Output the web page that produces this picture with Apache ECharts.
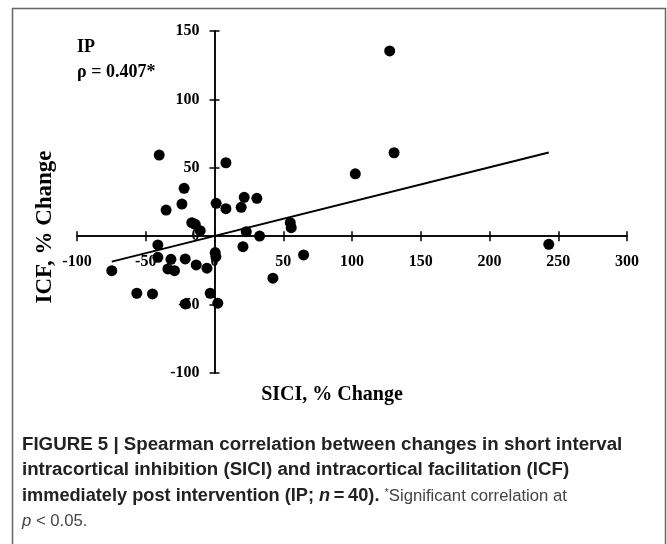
<!DOCTYPE html>
<html>
<head>
<meta charset="utf-8">
<script src="https://cdn.jsdelivr.net/npm/echarts@6/dist/echarts.min.js"></script>
<style>
  html, body { margin: 0; padding: 0; background: #fff; }
  #chart { width: 667px; height: 544px; }
</style>
</head>
<body>
<div id="chart"></div>
<script>
// SICI % change (x) and ICF % change (y), one entry per participant
const sici = [-22.1, -23.7, -35.2, 1.2, 8.3, 21.6, 30.8, 19.4, -16.5, -14.0,
  -10.4, 55.1, 55.8, 23.1, 32.8, -41.2, -41.2, -31.7, -33.9, -29.1,
  -21.3, -13.3, -5.5, 0.5, 1.0, 20.7, 64.8, -74.7, -56.5, -45.1,
  -3.1, -21.3, 2.4, 42.5, -40.2, 8.3, 127.4, 130.6, 102.4, 243.1]
const icf = [35.0, 23.5, 19.1, 24.0, 20.1, 28.4, 27.7, 21.1, 9.9, 8.7,
  4.0, 9.9, 6.2, 3.3, 0.1, -6.4, -15.4, -16.9, -23.9, -25.2,
  -16.6, -21.0, -23.4, -12.0, -15.0, -7.7, -13.7, -25.2, -41.7, -42.2,
  -41.7, -49.5, -49.0, -30.7, 59.3, 53.7, 135.4, 61.0, 45.6, -5.9]

// trend line end points
const fitX = [-74.7, 243.1]
const fitY = [-18.6, 61.2]

const xTicks = { min: -100, max: 300, interval: 50 }
const yTicks = { min: -100, max: 150, interval: 50 }

const serif = 'Liberation Serif'
const sans = 'Liberation Sans'

// plot box; axes cross at (0, 0)
const G = { left: 77, right: 40, top: 31, bottom: 171 }
const W = 667, H = 544
const zeroX = G.left + (0 - xTicks.min) / (xTicks.max - xTicks.min) * (W - G.left - G.right)
const zeroY = G.top + (yTicks.max - 0) / (yTicks.max - yTicks.min) * (H - G.top - G.bottom)

const chart = echarts.init(document.getElementById('chart'), null, { renderer: 'canvas' })

const axisLine = { onZero: true, lineStyle: { color: '#000', width: 1.5 } }
const tickStyle = { color: '#000', width: 1.5 }
const labelStyle = { color: '#000', fontFamily: serif, fontWeight: 'bold', fontSize: 16 }
const off = { show: false }

chart.setOption({
  animation: false,
  backgroundColor: '#fff',
  grid: [
    G,
    // helper grids so tick labels sit next to the crossing axes
    { left: G.left, right: G.right, top: G.top, bottom: H - zeroY },
    { left: zeroX, right: G.right, top: G.top, bottom: G.bottom }
  ],
  xAxis: [
    {
      type: 'value', ...xTicks, gridIndex: 0, position: 'bottom',
      axisLine,
      axisTick: { show: true, length: 5, lineStyle: tickStyle },
      axisLabel: off, splitLine: off
    },
    {
      type: 'value', ...xTicks, gridIndex: 0, position: 'bottom',
      axisLine,
      axisTick: { show: true, inside: true, length: 5, lineStyle: tickStyle },
      axisLabel: off, splitLine: off
    },
    {
      type: 'value', ...xTicks, gridIndex: 1, position: 'bottom',
      axisLine: { show: false, onZero: false }, axisTick: off, splitLine: off,
      axisLabel: { ...labelStyle, margin: 18, showMinLabel: true, showMaxLabel: true }
    },
    { type: 'value', gridIndex: 2, show: false }
  ],
  yAxis: [
    {
      type: 'value', ...yTicks, gridIndex: 0, position: 'left',
      axisLine,
      axisTick: { show: true, length: 5, lineStyle: tickStyle },
      axisLabel: off, splitLine: off
    },
    {
      type: 'value', ...yTicks, gridIndex: 0, position: 'left',
      axisLine,
      axisTick: { show: true, inside: true, length: 5, lineStyle: tickStyle },
      axisLabel: off, splitLine: off
    },
    { type: 'value', gridIndex: 1, show: false },
    {
      type: 'value', ...yTicks, gridIndex: 2, position: 'left',
      axisLine: { show: false, onZero: false }, axisTick: off, splitLine: off,
      axisLabel: { ...labelStyle, margin: 15, showMinLabel: true, showMaxLabel: true }
    }
  ],
  series: [
    {
      type: 'line',
      xAxisIndex: 0, yAxisIndex: 0,
      data: fitX.map((x, i) => [x, fitY[i]]),
      symbol: 'none',
      lineStyle: { color: '#000', width: 2 },
      z: 2
    },
    {
      type: 'scatter',
      xAxisIndex: 0, yAxisIndex: 0,
      data: sici.map((x, i) => [x, icf[i]]),
      symbol: 'circle',
      symbolSize: 11,
      itemStyle: { color: '#000', opacity: 1 },
      z: 3
    }
  ],
  graphic: [
    // figure frame (no bottom edge)
    {
      type: 'rect', silent: true,
      shape: { x: 12.5, y: 8.5, width: 653, height: 600 },
      style: { fill: 'none', stroke: '#666', lineWidth: 1.5 }
    },
    {
      type: 'text', left: 77, top: 38,
      style: { text: 'IP', font: 'bold 18px ' + serif, fill: '#000' }
    },
    {
      type: 'text', left: 77, top: 63,
      style: { text: 'ρ = 0.407*', font: 'bold 18px ' + serif, fill: '#000' }
    },
    {
      type: 'text', x: 332, y: 395,
      style: { text: 'SICI, % Change', font: 'bold 20px ' + serif, fill: '#000', align: 'center', verticalAlign: 'middle' }
    },
    {
      type: 'text', x: 45, y: 227, rotation: Math.PI / 2,
      style: { text: 'ICF, % Change', font: 'bold 23px ' + serif, fill: '#000', align: 'center', verticalAlign: 'middle' }
    },
    // caption
    {
      type: 'text', x: 22, y: 445,
      style: {
        text: '{b|FIGURE 5 | Spearman correlation between changes in short interval}',
        verticalAlign: 'middle',
        rich: { b: { font: 'bold 18.7px ' + sans, fill: '#222' } }
      }
    },
    {
      type: 'text', x: 22, y: 470,
      style: {
        text: '{b|intracortical inhibition (SICI) and intracortical facilitation (ICF)}',
        verticalAlign: 'middle',
        rich: { b: { font: 'bold 18.7px ' + sans, fill: '#222' } }
      }
    },
    {
      type: 'text', x: 22, y: 496,
      style: {
        text: '{b|immediately post intervention (IP; }{bi|n}{b|\u2009=\u200940). }{s|*}{r|Significant correlation at}',
        verticalAlign: 'middle',
        rich: {
          b: { font: 'bold 18.2px ' + sans, fill: '#222' },
          bi: { font: 'italic bold 18.2px ' + sans, fill: '#222' },
          s: { font: '11px ' + sans, fill: '#444', verticalAlign: 'top' },
          r: { font: '16.7px ' + sans, fill: '#444' }
        }
      }
    },
    {
      type: 'text', x: 22, y: 521,
      style: {
        text: '{i|p}{r| < 0.05.}',
        verticalAlign: 'middle',
        rich: {
          i: { font: 'italic 16.7px ' + sans, fill: '#444' },
          r: { font: '16.7px ' + sans, fill: '#444' }
        }
      }
    }
  ]
})
</script>
</body>
</html>
